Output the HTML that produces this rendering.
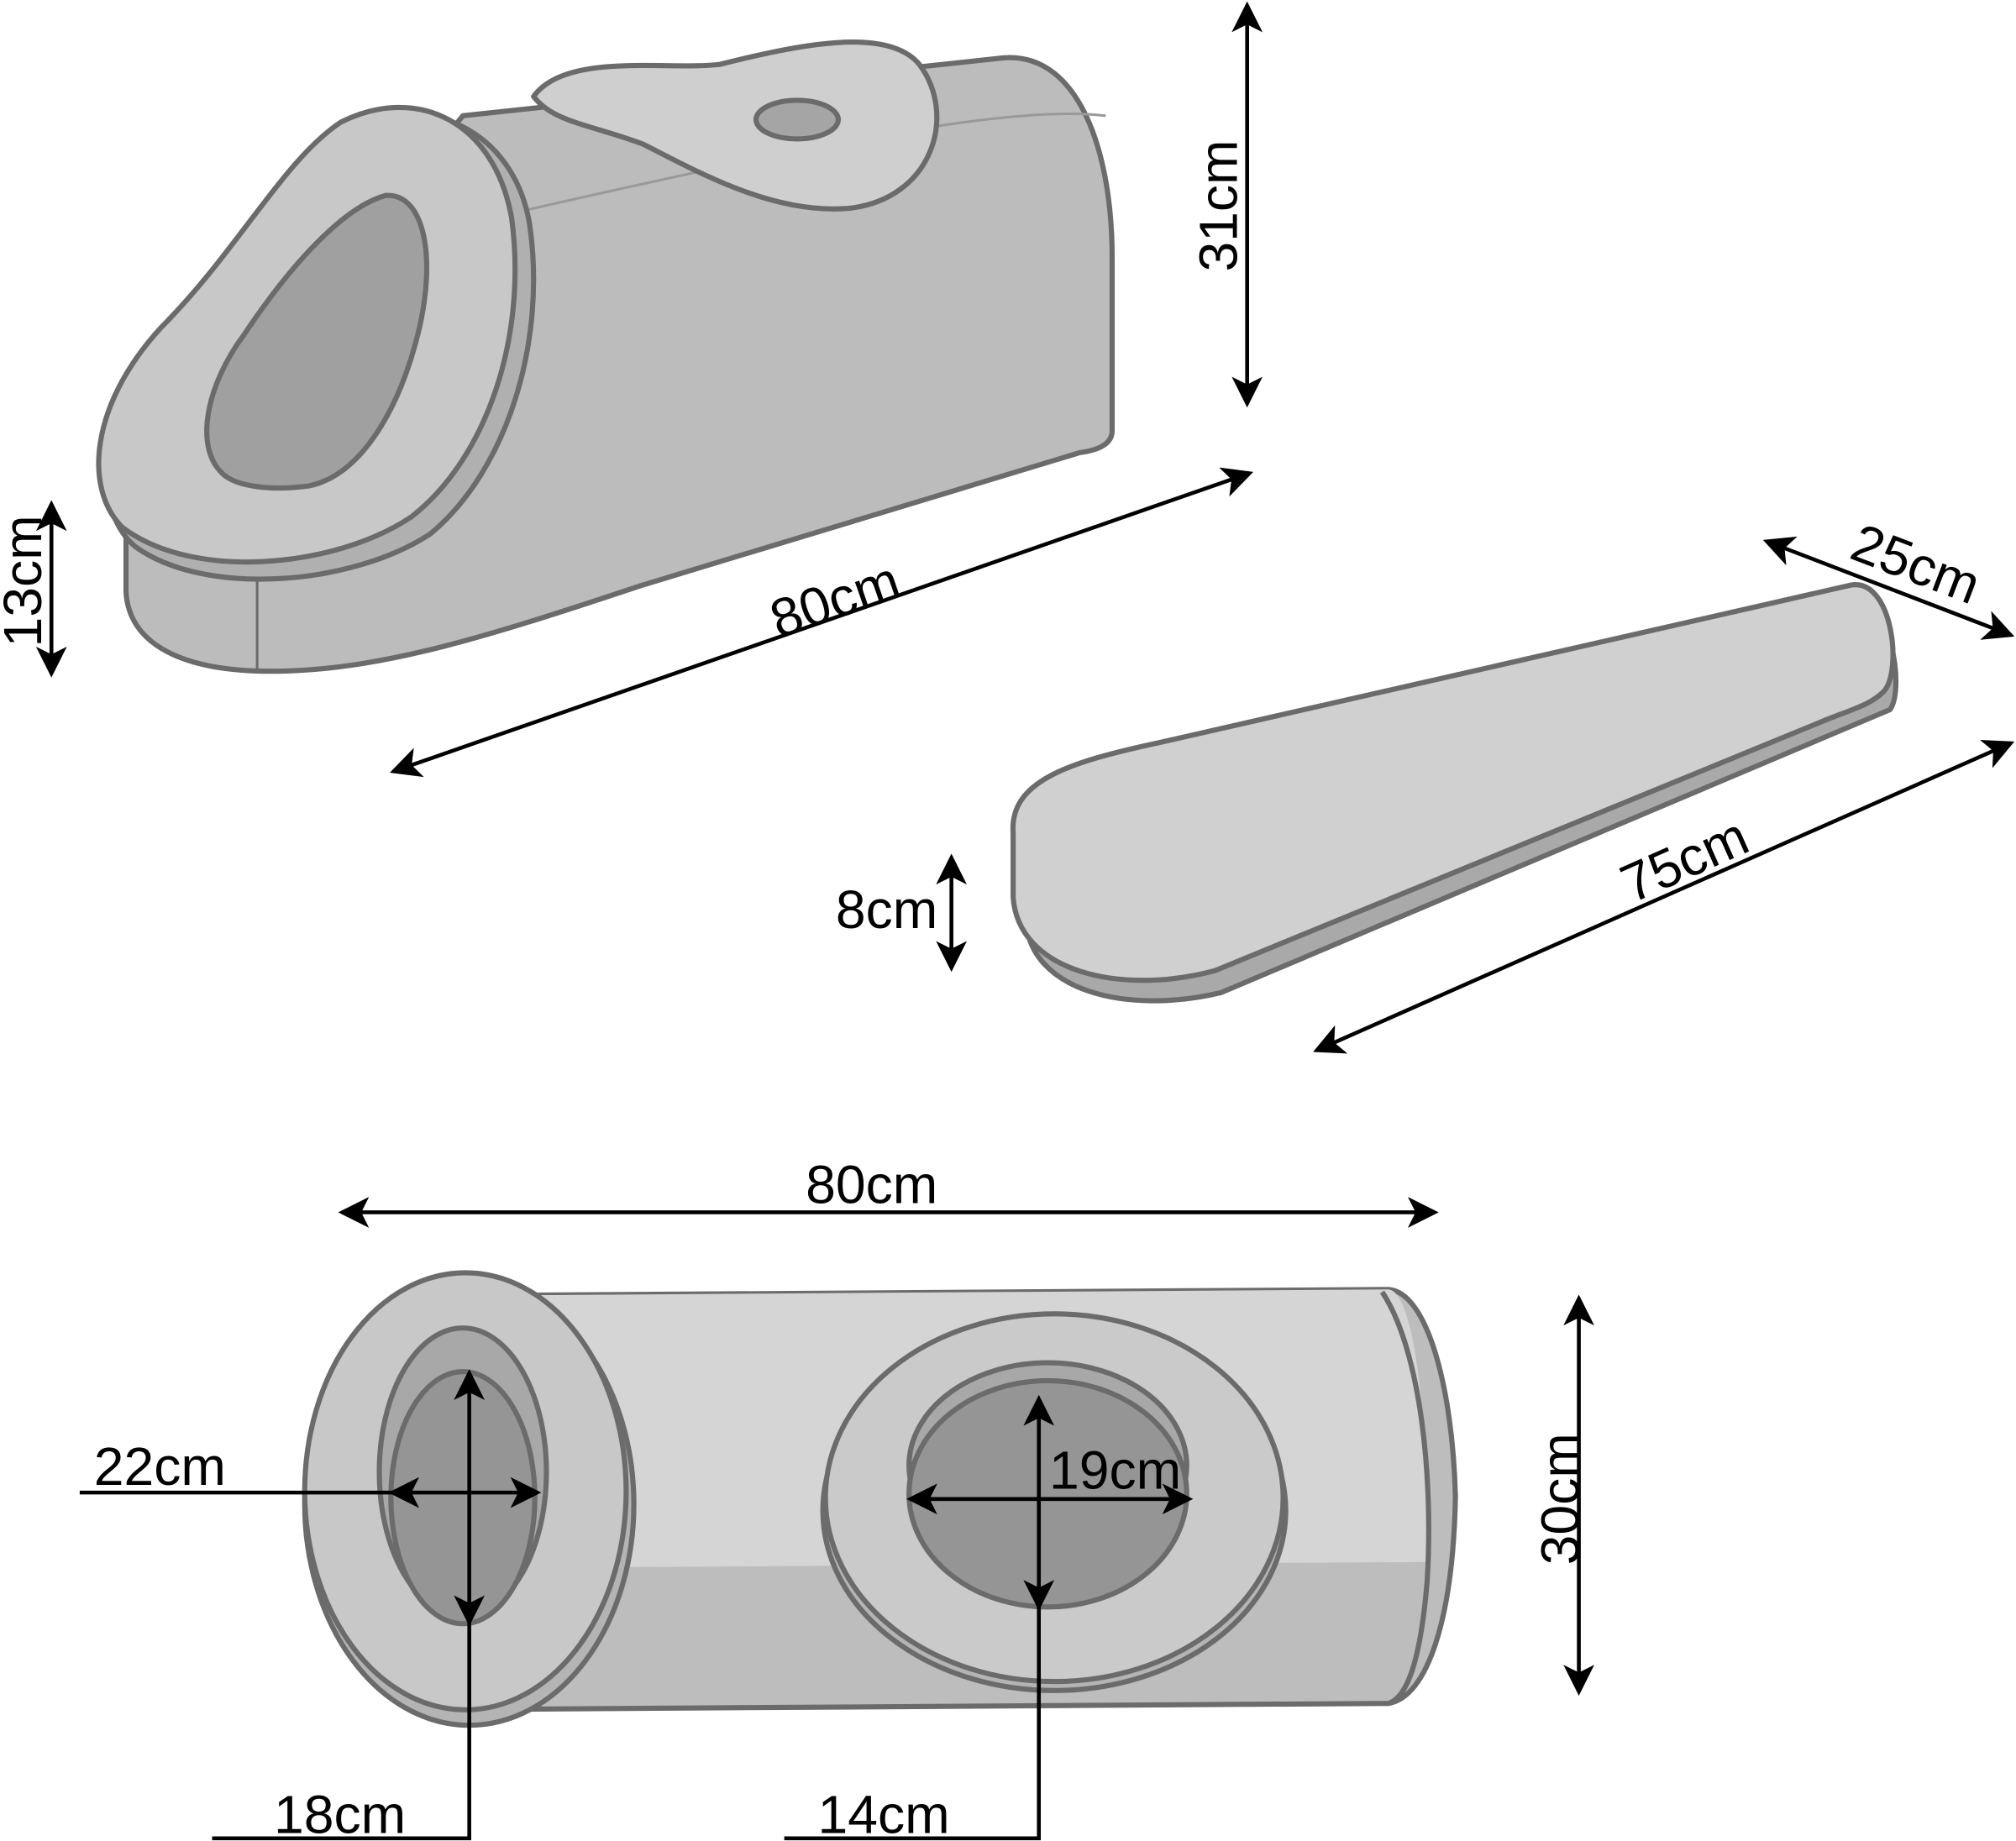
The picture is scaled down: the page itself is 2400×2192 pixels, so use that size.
<!DOCTYPE html>
<html><head><meta charset="utf-8"><style>
html,body{margin:0;padding:0;background:#fff;}
svg{display:block;}
text{font-family:"Liberation Sans",sans-serif;font-size:42px;fill:#000;}
</style></head><body>
<svg width="2400" height="2192" viewBox="0 0 1568 1432" xmlns="http://www.w3.org/2000/svg">
<defs>
<marker id="a" markerWidth="8" markerHeight="8" refX="7" refY="4" orient="auto-start-reverse" markerUnits="strokeWidth"><path d="M0,0 L8,4 L0,8 L2,4 Z" fill="#000"/></marker>
</defs>
<g stroke="#6b6b6b" stroke-width="4" stroke-linejoin="round">
<path d="M360,90 L780,45 C840,40 865,120 865,200 L865,335 C865,345 855,350 840,352 L500,455 C380,495 300,520 220,522 C140,524 100,500 98,460 L98,415 Z" fill="#bcbcbc"/>
<path d="M200,445 L200,520" fill="none" stroke-width="2"/>
<path d="M380,170 C600,120 780,80 860,90" fill="none" stroke-width="2" stroke="#999"/>
<path d="M415,75 C440,40 520,55 560,50 C620,35 690,20 715,50 C745,90 725,155 660,162 C600,167 540,132 500,112 C460,97 430,95 415,75 Z" fill="#cfcfcf"/>
<ellipse cx="620" cy="93" rx="32" ry="15" fill="#a5a5a5"/>
<path d="M105,425 C70,395 75,320 130,260 C190,200 225,130 270,100 C330,70 400,100 412,175 C425,265 395,365 335,415 C275,455 160,465 105,425 Z" fill="#b0b0b0"/>
<path d="M95,410 C65,380 70,315 125,255 C185,195 220,125 265,95 C325,65 385,95 398,170 C410,260 380,355 320,402 C260,442 150,452 95,410 Z" fill="#c8c8c8"/>
<path d="M175,370 C150,350 160,300 190,260 C230,200 270,160 300,152 C330,150 340,200 325,260 C310,320 280,370 240,378 C210,382 185,378 175,370 Z" fill="#a0a0a0"/>
<!-- mat -->
<path d="M798,660 C795,620 840,605 910,590 L1440,468 C1470,462 1482,535 1470,552 L950,772 C875,790 800,770 798,715 Z" fill="#a9a9a9"/>
<path d="M788,648 C785,608 830,593 900,578 L1440,455 C1472,450 1480,522 1465,538 C1455,548 1440,552 1420,560 L945,755 C870,775 792,755 788,698 Z" fill="#d0d0d0"/>
<!-- bottom tube -->
<path d="M330,1008 L1080,1003 C1110,1005 1130,1080 1132,1165 C1130,1260 1110,1320 1080,1325 L330,1330 Z" fill="#bdbdbd"/>
<path d="M330,1008 L1080,1003 C1100,1005 1110,1100 1112,1215 L330,1220 Z" fill="#d5d5d5" stroke="none"/>
<path d="M1075,1005 C1105,1050 1115,1150 1110,1230 C1105,1290 1095,1320 1080,1325" fill="none"/>
<ellipse cx="365" cy="1170" rx="128" ry="172" fill="#b4b4b4"/>
<ellipse cx="362" cy="1160" rx="125" ry="170" fill="#c8c8c8"/>
<ellipse cx="360" cy="1145" rx="65" ry="112" fill="#a8a8a8"/>
<ellipse cx="360" cy="1165" rx="56" ry="98" fill="#959595"/>
<ellipse cx="820" cy="1175" rx="180" ry="140" fill="#b4b4b4"/>
<ellipse cx="820" cy="1165" rx="178" ry="143" fill="#cacaca"/>
<ellipse cx="815" cy="1140" rx="108" ry="80" fill="#a8a8a8"/>
<ellipse cx="815" cy="1162" rx="108" ry="88" fill="#959595"/>
</g>
<g stroke="#000" stroke-width="3" fill="none">
<line x1="970" y1="4" x2="970" y2="314" marker-start="url(#a)" marker-end="url(#a)"/>
<line x1="40" y1="392" x2="40" y2="524" marker-start="url(#a)" marker-end="url(#a)"/>
<line x1="306" y1="600" x2="972" y2="368" marker-start="url(#a)" marker-end="url(#a)"/>
<line x1="1374" y1="421" x2="1564" y2="494" marker-start="url(#a)" marker-end="url(#a)"/>
<line x1="1024" y1="817" x2="1564" y2="578" marker-start="url(#a)" marker-end="url(#a)"/>
<line x1="740" y1="667" x2="740" y2="753" marker-start="url(#a)" marker-end="url(#a)"/>
<line x1="266" y1="943" x2="1116" y2="943" marker-start="url(#a)" marker-end="url(#a)"/>
<line x1="1228" y1="1010" x2="1228" y2="1316" marker-start="url(#a)" marker-end="url(#a)"/>
<line x1="62" y1="1161" x2="305" y2="1161"/>
<line x1="305" y1="1161" x2="418" y2="1161" marker-start="url(#a)" marker-end="url(#a)"/>
<line x1="365" y1="1068" x2="365" y2="1262" marker-start="url(#a)" marker-end="url(#a)"/>
<polyline points="365,1262 365,1430 165,1430"/>
<line x1="708" y1="1166" x2="925" y2="1166" marker-start="url(#a)" marker-end="url(#a)"/>
<line x1="808" y1="1088" x2="808" y2="1250" marker-start="url(#a)" marker-end="url(#a)"/>
<polyline points="808,1250 808,1430 610,1430"/>
</g>
<text transform="translate(962,160) rotate(-90)" text-anchor="middle">31cm</text>
<text transform="translate(32,452) rotate(-90)" text-anchor="middle">13cm</text>
<text transform="translate(654,480) rotate(-19)" text-anchor="middle">80cm</text>
<text transform="translate(1485,452) rotate(21)" text-anchor="middle">25cm</text>
<text transform="translate(1316,682) rotate(-24)" text-anchor="middle">75cm</text>
<text x="650" y="722">8cm</text>
<text x="678" y="936" text-anchor="middle">80cm</text>
<text transform="translate(1228,1166) rotate(-90)" text-anchor="middle">30cm</text>
<text x="73" y="1155">22cm</text>
<text x="816" y="1158">19cm</text>
<text x="213" y="1426">18cm</text>
<text x="636" y="1426">14cm</text>
</svg>
</body></html>
